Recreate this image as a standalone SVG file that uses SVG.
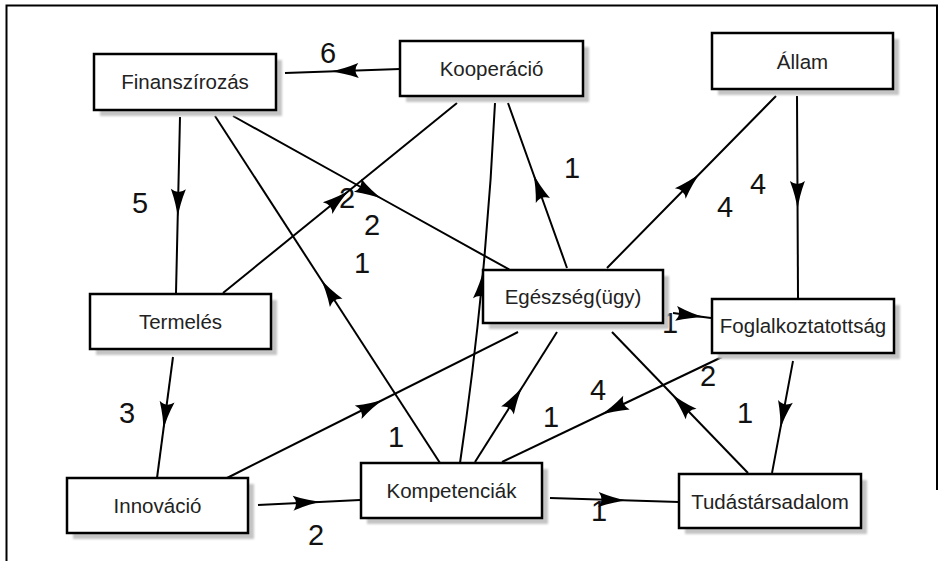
<svg xmlns="http://www.w3.org/2000/svg" width="946" height="561" viewBox="0 0 946 561">
<style>
.box{fill:#fff;stroke:#000;stroke-width:2.5}
.sh{fill:#c4c4c4;filter:url(#blur)}
.t{font-family:"Liberation Sans",Arial,sans-serif;font-size:20.5px;fill:#222;text-anchor:middle}
.n{font-family:"Liberation Sans",Arial,sans-serif;font-size:29px;fill:#111;text-anchor:middle}
.c{fill:none;stroke:#000;stroke-width:2;marker-mid:url(#ah)}
</style>
<defs>
<filter id="blur" x="-10%" y="-10%" width="120%" height="120%"><feGaussianBlur stdDeviation="1.2"/></filter>
<marker id="ah" markerUnits="userSpaceOnUse" viewBox="-20 -10 40 20" markerWidth="40" markerHeight="20" refX="0" refY="0" orient="auto" overflow="visible">
<path d="M13,0 Q0,-1.5 -16,-7.5 Q-10,0 -16,7.5 Q0,1.5 13,0 Z" fill="#000"/>
</marker>
</defs>
<rect width="946" height="561" fill="#fff"/>
<path d="M6.5,561 V5.5 H937 V490" fill="none" stroke="#000" stroke-width="2"/>
<g id="labels">
<text class="n" x="328" y="63">6</text>
<text class="n" x="140" y="213">5</text>
<text class="n" x="127" y="423">3</text>
<text class="n" x="316" y="545">2</text>
<text class="n" x="396" y="447">1</text>
<text class="n" x="362" y="273">1</text>
<text class="n" x="372" y="235">2</text>
<text class="n" x="347" y="208">2</text>
<text class="n" x="572" y="178">1</text>
<text class="n" x="758" y="194">4</text>
<text class="n" x="725" y="217">4</text>
<text class="n" x="708" y="386">2</text>
<text class="n" x="598" y="400">4</text>
<text class="n" x="551" y="427">1</text>
<text class="n" x="745" y="423">1</text>
<text class="n" x="599" y="521">1</text>
<text class="n" x="670" y="333">1</text>
</g>
<g id="connectors">
<polyline class="c" points="400,69 342.5,71 285,73"/>
<polyline class="c" points="180,117 178,205 176,293"/>
<polyline class="c" points="440,463 327.5,289.5 215,116"/>
<polyline class="c" points="233,116 371.5,193 510,270"/>
<polyline class="c" points="223,293 340,198 457,103"/>
<polyline class="c" points="173,357 165,417.5 157,478"/>
<polyline class="c" points="258,505 309,502.5 360,500"/>
<polyline class="c" points="227,478 372.5,405 518,332"/>
<path class="c" d="M460,463 Q473.25,373 482,283 Q490.75,193 495,103"/>
<polyline class="c" points="567,268 537.5,185.5 508,103"/>
<polyline class="c" points="607,268 691.5,182 776,96"/>
<polyline class="c" points="797,96 797.5,197 798,298"/>
<polyline class="c" points="673,313 692,315.5 711,318"/>
<polyline class="c" points="722,357 612,409.5 502,462"/>
<polyline class="c" points="475,462 516,397 557,332"/>
<polyline class="c" points="748,473 680,402.5 612,332"/>
<polyline class="c" points="793,361 782.5,417 772,473"/>
<polyline class="c" points="550,498 614.5,500 679,502"/>
</g>
<g id="finanszirozas"><rect class="sh" x="100" y="60" width="182" height="56"/><rect class="box" x="94" y="54" width="182" height="56"/><text class="t" x="185" y="89">Finanszírozás</text></g>
<g id="kooperacio"><rect class="sh" x="406" y="47" width="183" height="55"/><rect class="box" x="400" y="41" width="183" height="55"/><text class="t" x="491.5" y="75.5">Kooperáció</text></g>
<g id="allam"><rect class="sh" x="718" y="39" width="181" height="56"/><rect class="box" x="712" y="33" width="181" height="56"/><text class="t" x="802.5" y="68.5">Állam</text></g>
<g id="termeles"><rect class="sh" x="96" y="300" width="181" height="55"/><rect class="box" x="90" y="294" width="181" height="55"/><text class="t" x="180.5" y="328.5">Termelés</text></g>
<g id="innovacio"><rect class="sh" x="73" y="484" width="181" height="55"/><rect class="box" x="67" y="478" width="181" height="55"/><text class="t" x="157.5" y="512.5">Innováció</text></g>
<g id="kompetenciak"><rect class="sh" x="367" y="469" width="181" height="55"/><rect class="box" x="361" y="463" width="181" height="55"/><text class="t" x="451.5" y="497.5">Kompetenciák</text></g>
<g id="egeszseg"><rect class="sh" x="489" y="276" width="180" height="53"/><rect class="box" x="483" y="270" width="180" height="53"/><text class="t" x="573" y="304">Egészség(ügy)</text></g>
<g id="foglalkoztatottsag"><rect class="sh" x="718" y="305" width="182" height="54"/><rect class="box" x="712" y="299" width="182" height="54"/><text class="t" x="803" y="333">Foglalkoztatottság</text></g>
<g id="tudastarsadalom"><rect class="sh" x="685" y="480" width="182" height="54"/><rect class="box" x="679" y="474" width="182" height="54"/><text class="t" x="770" y="508.5">Tudástársadalom</text></g>
</svg>
